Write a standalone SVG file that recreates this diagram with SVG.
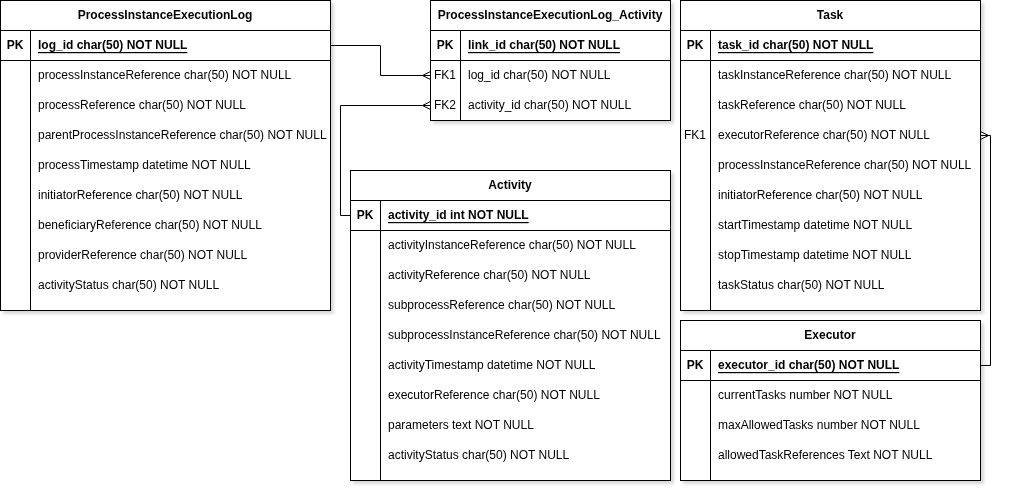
<svg xmlns="http://www.w3.org/2000/svg" width="1010" height="492" viewBox="0 0 1010 492">
<style>
text{font-family:"Liberation Sans",Arial,Helvetica,sans-serif;font-size:12px;fill:#000;dominant-baseline:central}
.h{font-weight:bold;text-anchor:middle}
.k{font-weight:bold;text-anchor:middle}
.pk{font-weight:bold;text-decoration:underline}
.box{fill:#fff;stroke:#000;stroke-width:1}
.ln{stroke:#000;stroke-width:1;fill:none}
.conn{stroke:#000;stroke-width:1;fill:none;marker-end:url(#many)}
</style>
<defs>
<filter id="sh" x="-5%" y="-5%" width="115%" height="115%">
<feDropShadow dx="3" dy="3" stdDeviation="1.5" flood-color="#808080" flood-opacity="0.3"/>
</filter>
<marker id="many" viewBox="-10 -6 11 12" refX="0" refY="0" markerWidth="11" markerHeight="12" markerUnits="userSpaceOnUse" orient="auto">
<path d="M0,-4 L-8,0 L0,4" fill="none" stroke="#000" stroke-width="1"/>
</marker>
</defs>
<rect width="1010" height="492" fill="#fff"/>

<g id="ProcessInstanceExecutionLog" filter="url(#sh)">
<rect class="box" x="0.5" y="0.5" width="330" height="310"/>
<path class="ln" d="M0.5,30.5H330.5M0.5,60.5H330.5M30.5,30.5V310.5"/>
<text class="h" x="165" y="15">ProcessInstanceExecutionLog</text>
<text class="k" x="15" y="45">PK</text>
<text class="pk" x="38" y="45">log_id char(50) NOT NULL</text>
<text x="38" y="75">processInstanceReference char(50) NOT NULL</text>
<text x="38" y="105">processReference char(50) NOT NULL</text>
<text x="38" y="135">parentProcessInstanceReference char(50) NOT NULL</text>
<text x="38" y="165">processTimestamp datetime NOT NULL</text>
<text x="38" y="195">initiatorReference char(50) NOT NULL</text>
<text x="38" y="225">beneficiaryReference char(50) NOT NULL</text>
<text x="38" y="255">providerReference char(50) NOT NULL</text>
<text x="38" y="285">activityStatus char(50) NOT NULL</text>
</g>

<g id="ProcessInstanceExecutionLog_Activity" filter="url(#sh)">
<rect class="box" x="430.5" y="0.5" width="240" height="120"/>
<path class="ln" d="M430.5,30.5H670.5M430.5,60.5H670.5M460.5,30.5V120.5"/>
<text class="h" x="550" y="15">ProcessInstanceExecutionLog_Activity</text>
<text class="k" x="445" y="45">PK</text>
<text class="pk" x="468" y="45">link_id char(50) NOT NULL</text>
<text class="k" x="445" y="75" style="font-weight:normal">FK1</text>
<text x="468" y="75">log_id char(50) NOT NULL</text>
<text class="k" x="445" y="105" style="font-weight:normal">FK2</text>
<text x="468" y="105">activity_id char(50) NOT NULL</text>
</g>

<g id="Task" filter="url(#sh)">
<rect class="box" x="680.5" y="0.5" width="300" height="310"/>
<path class="ln" d="M680.5,30.5H980.5M680.5,60.5H980.5M710.5,30.5V310.5"/>
<text class="h" x="830" y="15">Task</text>
<text class="k" x="695" y="45">PK</text>
<text class="pk" x="718" y="45">task_id char(50) NOT NULL</text>
<text x="718" y="75">taskInstanceReference char(50) NOT NULL</text>
<text x="718" y="105">taskReference char(50) NOT NULL</text>
<text class="k" x="695" y="135" style="font-weight:normal">FK1</text>
<text x="718" y="135">executorReference char(50) NOT NULL</text>
<text x="718" y="165">processInstanceReference char(50) NOT NULL</text>
<text x="718" y="195">initiatorReference char(50) NOT NULL</text>
<text x="718" y="225">startTimestamp datetime NOT NULL</text>
<text x="718" y="255">stopTimestamp datetime NOT NULL</text>
<text x="718" y="285">taskStatus char(50) NOT NULL</text>
</g>

<g id="Activity" filter="url(#sh)">
<rect class="box" x="350.5" y="170.5" width="320" height="310"/>
<path class="ln" d="M350.5,200.5H670.5M350.5,230.5H670.5M380.5,200.5V480.5"/>
<text class="h" x="510" y="185">Activity</text>
<text class="k" x="365" y="215">PK</text>
<text class="pk" x="388" y="215">activity_id int NOT NULL</text>
<text x="388" y="245">activityInstanceReference char(50) NOT NULL</text>
<text x="388" y="275">activityReference char(50) NOT NULL</text>
<text x="388" y="305">subprocessReference char(50) NOT NULL</text>
<text x="388" y="335">subprocessInstanceReference char(50) NOT NULL</text>
<text x="388" y="365">activityTimestamp datetime NOT NULL</text>
<text x="388" y="395">executorReference char(50) NOT NULL</text>
<text x="388" y="425">parameters text NOT NULL</text>
<text x="388" y="455">activityStatus char(50) NOT NULL</text>
</g>

<g id="Executor" filter="url(#sh)">
<rect class="box" x="680.5" y="320.5" width="300" height="160"/>
<path class="ln" d="M680.5,350.5H980.5M680.5,380.5H980.5M710.5,350.5V480.5"/>
<text class="h" x="830" y="335">Executor</text>
<text class="k" x="695" y="365">PK</text>
<text class="pk" x="718" y="365">executor_id char(50) NOT NULL</text>
<text x="718" y="395">currentTasks number NOT NULL</text>
<text x="718" y="425">maxAllowedTasks number NOT NULL</text>
<text x="718" y="455">allowedTaskReferences Text NOT NULL</text>
</g>

<g id="connectors">
<path class="conn" d="M330.5,45.5H380.5V75.5H430.5"/>
<path class="conn" d="M350.5,215.5H340.5V105.5H430.5"/>
<path class="conn" d="M980.5,365.5H990.5V135.5H980.5"/>
</g>
</svg>
